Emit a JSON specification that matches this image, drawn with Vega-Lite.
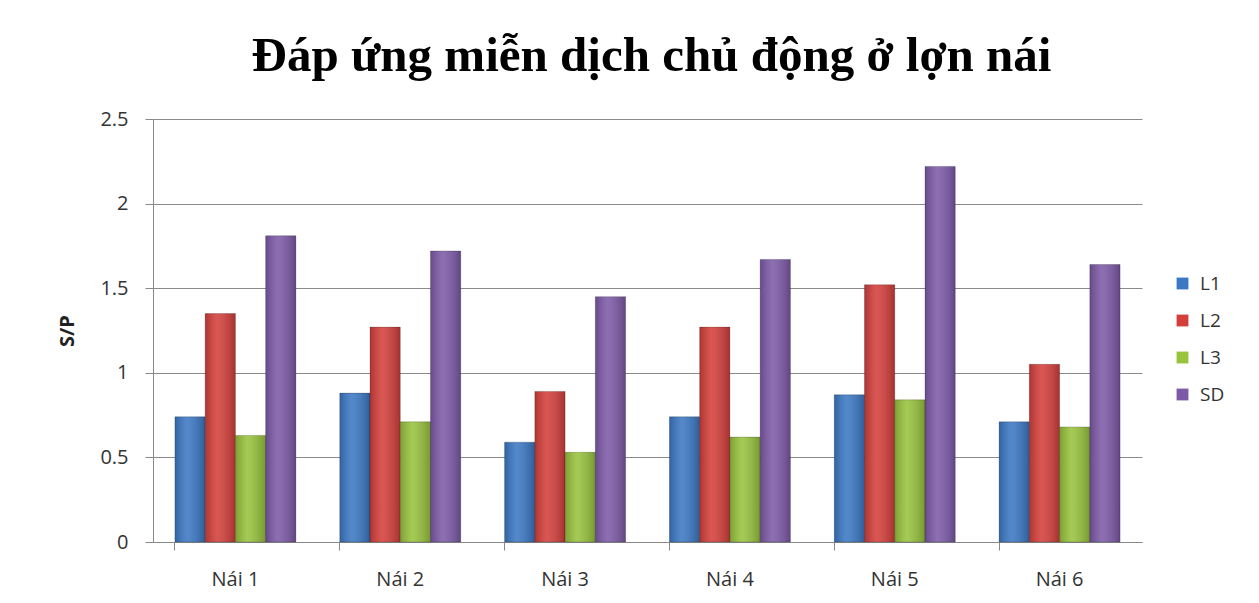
{
  "$schema": "https://vega.github.io/schema/vega-lite/v6.json",
  "width": 989,
  "height": 423,
  "autosize": {"type": "none"},
  "padding": {"left": 153, "top": 119, "right": 117, "bottom": 61},
  "background": "white",
  "title": {
    "text": "Đáp ứng miễn dịch chủ động ở lợn nái",
    "font": "Liberation Serif",
    "fontSize": 49,
    "fontWeight": "bold",
    "color": "#000000",
    "anchor": "middle",
    "dx": 4,
    "offset": 28
  },
  "data": {
    "values": [
      {"nai": "Nái 1", "loai": "L1", "sp": 0.74},
      {"nai": "Nái 1", "loai": "L2", "sp": 1.35},
      {"nai": "Nái 1", "loai": "L3", "sp": 0.63},
      {"nai": "Nái 1", "loai": "SD", "sp": 1.81},
      {"nai": "Nái 2", "loai": "L1", "sp": 0.88},
      {"nai": "Nái 2", "loai": "L2", "sp": 1.27},
      {"nai": "Nái 2", "loai": "L3", "sp": 0.71},
      {"nai": "Nái 2", "loai": "SD", "sp": 1.72},
      {"nai": "Nái 3", "loai": "L1", "sp": 0.59},
      {"nai": "Nái 3", "loai": "L2", "sp": 0.89},
      {"nai": "Nái 3", "loai": "L3", "sp": 0.53},
      {"nai": "Nái 3", "loai": "SD", "sp": 1.45},
      {"nai": "Nái 4", "loai": "L1", "sp": 0.74},
      {"nai": "Nái 4", "loai": "L2", "sp": 1.27},
      {"nai": "Nái 4", "loai": "L3", "sp": 0.62},
      {"nai": "Nái 4", "loai": "SD", "sp": 1.67},
      {"nai": "Nái 5", "loai": "L1", "sp": 0.87},
      {"nai": "Nái 5", "loai": "L2", "sp": 1.52},
      {"nai": "Nái 5", "loai": "L3", "sp": 0.84},
      {"nai": "Nái 5", "loai": "SD", "sp": 2.22},
      {"nai": "Nái 6", "loai": "L1", "sp": 0.71},
      {"nai": "Nái 6", "loai": "L2", "sp": 1.05},
      {"nai": "Nái 6", "loai": "L3", "sp": 0.68},
      {"nai": "Nái 6", "loai": "SD", "sp": 1.64}
    ]
  },
  "encoding": {
    "x": {
      "field": "nai",
      "type": "nominal",
      "scale": {"paddingInner": 0.266, "paddingOuter": 0.133},
      "axis": {
        "title": null,
        "labelAngle": 0,
        "labelFont": "Open Sans",
        "labelFontSize": 20,
        "labelColor": "#333333",
        "labelPadding": 19,
        "bandPosition": 0,
        "tickSize": 8,
        "tickColor": "#888888",
        "domainColor": "#888888",
        "grid": false
      }
    },
    "xOffset": {"field": "loai", "type": "nominal", "scale": {"paddingInner": 0, "paddingOuter": 0}},
    "y": {
      "field": "sp",
      "type": "quantitative",
      "scale": {"domain": [0, 2.5]},
      "axis": {
        "title": "S/P",
        "titleFont": "Open Sans",
        "titleFontSize": 20,
        "titleFontWeight": "bold",
        "titleColor": "#222222",
        "titlePadding": 22,
        "values": [0, 0.5, 1, 1.5, 2, 2.5],
        "format": "~g",
        "labelFont": "Open Sans",
        "labelFontSize": 20,
        "labelColor": "#333333",
        "labelPadding": 17,
        "tickSize": 8,
        "tickColor": "#888888",
        "domainColor": "#888888",
        "gridColor": "#8a8a8a",
        "gridWidth": 1
      }
    }
  },
  "layer": [
    {
      "mark": {"type": "bar", "stroke": "#00000040", "strokeWidth": 0.8},
      "encoding": {
        "color": {
          "field": "loai",
          "type": "nominal",
          "scale": {"domain": ["L1", "L2", "L3", "SD"], "range": ["#3B78C4", "#D43F3B", "#98C33D", "#7D5AA8"]},
          "legend": {
            "title": null,
            "orient": "none",
            "legendX": 1020,
            "legendY": 155,
            "symbolType": "square",
            "symbolSize": 140,
            "symbolStrokeWidth": 0,
            "labelFont": "Open Sans",
            "labelFontSize": 19,
            "labelColor": "#333333",
            "rowPadding": 17,
            "labelOffset": 8
          }
        }
      }
    },
    {
      "mark": {
        "type": "bar",
        "fill": {
          "gradient": "linear",
          "x1": 0, "y1": 0, "x2": 1, "y2": 0,
          "stops": [
            {"offset": 0, "color": "rgba(0,0,0,0.18)"},
            {"offset": 0.4, "color": "rgba(255,255,255,0.12)"},
            {"offset": 1, "color": "rgba(0,0,0,0.22)"}
          ]
        }
      },
      "encoding": {}
    }
  ],
  "config": {"view": {"stroke": null}}
}
